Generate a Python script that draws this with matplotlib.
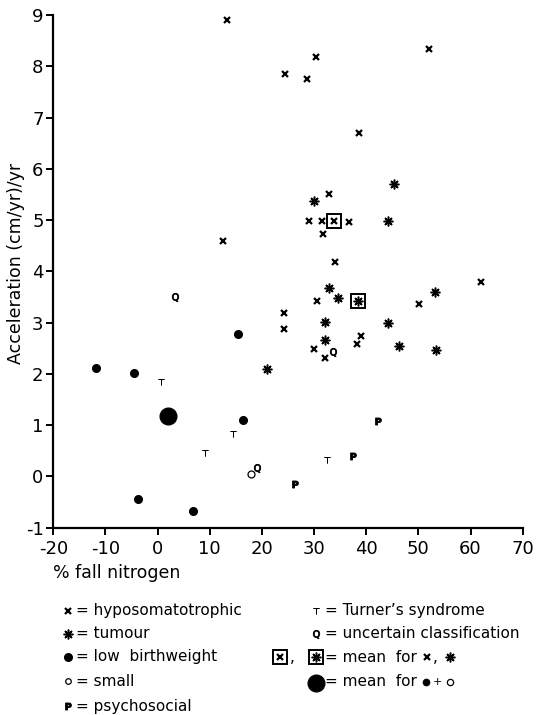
import matplotlib.pyplot as plt

plt.rcParams['font.family'] = ['DejaVu Sans']
plt.rcParams['axes.unicode_minus'] = False

# data: % fall nitrogen vs acceleration (cm/yr)/yr
hypo_x = [13.3, 52.0, 30.4, 24.5, 28.6, 38.6, 32.9, 29.1, 31.6, 36.6, 31.7, 12.5,
          34.1, 62.0, 30.5, 50.1, 24.2, 24.2, 39.0, 38.2, 29.9, 32.0]
hypo_y = [8.9, 8.33, 8.18, 7.85, 7.76, 6.69, 5.5, 4.98, 4.98, 4.96, 4.73, 4.6,
          4.18, 3.8, 3.42, 3.37, 3.19, 2.87, 2.74, 2.59, 2.48, 2.31]
tum_x = [45.3, 29.9, 44.2, 32.9, 53.1, 34.5, 32.0, 44.2, 32.0, 46.2, 53.4, 21.0]
tum_y = [5.7, 5.37, 4.99, 3.68, 3.59, 3.48, 3.02, 3.0, 2.67, 2.55, 2.46, 2.09]
lbw_x = [-11.8, -4.6, 15.5, 16.4, -3.8, 6.8]
lbw_y = [2.12, 2.02, 2.78, 1.1, -0.44, -0.68]
small_x = [18.0]
small_y = [0.05]
psy_x = [42.2, 37.5, 26.4]
psy_y = [1.08, 0.40, -0.14]
turner_x = [0.6, 14.4, 9.0, 32.4]
turner_y = [1.84, 0.82, 0.45, 0.33]
unc_x = [3.3, 33.6, 19.1]
unc_y = [3.5, 2.43, 0.16]
mean_hypo = (33.9, 4.98)
mean_tum = (38.5, 3.42)
mean_lbw = (2.0, 1.17)

xticks = list(range(-20, 71, 10))
yticks = list(range(-1, 10))

# marker styles
st_x = dict(marker='x', ms=4.5, mew=1.6, color='k', ls='none')
st_star = dict(marker=(8, 2, 0), ms=7, mew=1.1, color='k', ls='none')
st_dot_c = dict(marker='o', ms=2.8, color='k', ls='none')
st_lbw = dict(marker='o', ms=5.5, color='k', ls='none')
st_small = dict(marker='o', ms=5, mfc='white', mec='k', mew=0.9, ls='none')
st_P = dict(marker=r'$\mathbf{P}$', ms=5, mew=0.7, color='k', ls='none')
st_T = dict(marker=r'$\mathrm{T}$', ms=5, mew=0.4, color='k', ls='none')
st_Q = dict(marker=r'$\mathsf{Q}$', ms=6, mew=0.6, color='k', ls='none')
st_box = dict(marker='s', ms=10, mfc='none', mec='k', mew=1.4, ls='none')
st_big = dict(marker='o', ms=12, color='k', ls='none')

fig = plt.figure(figsize=(5.37, 7.15), dpi=100)
W, H = 537, 715

# legend layer in pixel coordinates
lax = fig.add_axes([0, 0, 1, 1])
lax.set_xlim(0, W)
lax.set_ylim(H, 0)
lax.axis('off')

ax = fig.add_axes([53.3 / W, 1 - 527.7 / H, 469.4 / W, 512.7 / H])

ax.plot(hypo_x, hypo_y, **st_x)
ax.plot(tum_x, tum_y, **st_star)
ax.plot(tum_x, tum_y, **st_dot_c)
ax.plot(lbw_x, lbw_y, **st_lbw)
ax.plot(small_x, small_y, **st_small)
ax.plot(psy_x, psy_y, **st_P)
ax.plot(turner_x, turner_y, **st_T)
ax.plot(unc_x, unc_y, **st_Q)
ax.plot(*mean_hypo, **st_box)
ax.plot(*mean_hypo, **st_x)
ax.plot(*mean_tum, **st_box)
ax.plot(*mean_tum, **st_star)
ax.plot(*mean_tum, **st_dot_c)
ax.plot(*mean_lbw, **st_big)

ax.set_xlim(-20, 70)
ax.set_ylim(-1, 9)
ax.set_xticks(xticks)
ax.set_yticks(yticks)
ax.spines['top'].set_visible(False)
ax.spines['right'].set_visible(False)
for s in ['left', 'bottom']:
    ax.spines[s].set_linewidth(1.6)
ax.tick_params(direction='out', length=5, width=1.4, labelsize=13)
ax.tick_params(axis='y', pad=2)
ax.tick_params(axis='x', pad=4)
ax.patch.set_alpha(0)

ax.set_ylabel('Acceleration (cm/yr)/yr', fontsize=12.5)
ax.yaxis.set_label_coords(-0.061, 0.516)
ax.set_xlabel('% fall nitrogen', fontsize=12.5, loc='left')
ax.xaxis.set_label_coords(0, -0.07)

# legend, left column
fs = 11
rows = [611, 634, 657, 681, 706]
lx = 68
lax.plot(lx, rows[0], **st_x)
lax.plot(lx, rows[1], **st_star)
lax.plot(lx, rows[1], **st_dot_c)
lax.plot(lx, rows[2], **st_lbw)
lax.plot(lx, rows[3], **dict(st_small, ms=4))
lax.plot(lx, rows[4], **st_P)
left_txt = ['= hyposomatotrophic', '= tumour', '= low  birthweight', '= small', '= psychosocial']
for r, t in zip(rows, left_txt):
    lax.text(76, r, t, fontsize=fs, va='center', ha='left')

# legend, right column
rx = 316
lax.plot(rx, rows[0], **st_T)
lax.text(325, rows[0], '= Turner\u2019s syndrome', fontsize=fs, va='center')
lax.plot(rx, rows[1], **st_Q)
lax.text(325, rows[1], '= uncertain classification', fontsize=fs, va='center')
lax.plot(280, rows[2], **st_box)
lax.plot(280, rows[2], **st_x)
lax.text(290, rows[2] + 1, ',', fontsize=fs, va='center')
lax.plot(rx, rows[2], **st_box)
lax.plot(rx, rows[2], **st_star)
lax.plot(rx, rows[2], **st_dot_c)
lax.text(325, rows[2], '= mean  for', fontsize=fs, va='center')
lax.plot(427, rows[2], **st_x)
lax.text(433, rows[2] + 1, ',', fontsize=fs, va='center')
lax.plot(450, rows[2], **st_star)
lax.plot(450, rows[2], **st_dot_c)
lax.plot(rx, rows[3] + 2, **st_big)
lax.text(325, rows[3], '= mean  for', fontsize=fs, va='center')
lax.plot(426, rows[3] + 1, **dict(st_lbw, ms=4.5))
lax.text(437, rows[3] + 1, '+', fontsize=8, va='center', ha='center')
lax.plot(450, rows[3] + 1, **dict(st_small, ms=4.5))

fig.savefig('out.png', dpi=100)
